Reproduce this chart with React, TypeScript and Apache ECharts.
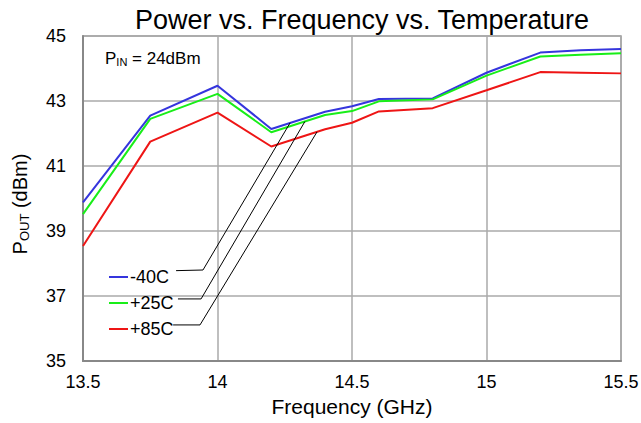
import React, { useEffect, useRef } from "react";
import * as echarts from "echarts";

const FONT = "'Liberation Sans', Arial, sans-serif";

const freqs = [13.5, 13.75, 14, 14.2, 14.4, 14.5, 14.6, 14.8, 15, 15.2, 15.35, 15.5];
const seriesNames = ["-40C", "+25C", "+85C"];
const pM40 = [39.88, 42.55, 43.47, 42.14, 42.67, 42.84, 43.06, 43.08, 43.87, 44.49, 44.56, 44.6];
const pP25 = [39.52, 42.45, 43.22, 42.04, 42.57, 42.69, 42.99, 43.05, 43.78, 44.37, 44.42, 44.47];
const pP85 = [38.54, 41.75, 42.64, 41.6, 42.13, 42.33, 42.68, 42.78, 43.33, 43.89, 43.87, 43.85];
const seriesColors = ["#3535dd", "#18ee18", "#ee1515"];

// leader-line annotations (data coordinates: frequency, dBm)
const leaderM40 = [[13.846, 37.78], [13.946, 37.8], [14.27, 42.33]];
const leaderP25 = [[13.853, 36.91], [13.939, 36.91], [14.325, 42.37]];
const leaderP85 = [[13.835, 36.11], [13.935, 36.11], [14.37, 42.05]];

const xTicks = { min: 13.5, max: 15.5, interval: 0.5 };
const yTicks = { min: 35, max: 45, interval: 2 };

export default function App() {
  const ref = useRef<HTMLDivElement>(null);
  useEffect(() => {
    if (!ref.current) return;
    const chart = echarts.init(ref.current, undefined, { renderer: "svg" });
    const values = [pM40, pP25, pP85];
    const leaders = [leaderM40, leaderP25, leaderP85];
    const dataSeries = values.map((vals, i) => ({
      name: seriesNames[i],
      type: "line",
      data: freqs.map((f, j) => [f, vals[j]]),
      showSymbol: false,
      symbol: "none",
      lineStyle: { color: seriesColors[i], width: 2 },
      itemStyle: { color: seriesColors[i] },
      z: 3,
    }));
    const leaderSeries = leaders.map((pts) => ({
      type: "line",
      data: pts,
      showSymbol: false,
      symbol: "none",
      silent: true,
      lineStyle: { color: "#000", width: 1 },
      z: 4,
    }));
    chart.setOption({
      animation: false,
      backgroundColor: "#fff",
      title: {
        text: "Power vs. Frequency vs. Temperature",
        left: 357,
        textAlign: "center",
        top: 1,
        textStyle: { fontFamily: FONT, fontSize: 27, fontWeight: "normal", color: "#000" },
      },
      grid: {
        left: 83,
        right: 20,
        top: 36,
        bottom: 62,
        show: true,
        borderColor: "#999",
        borderWidth: 1.5,
        backgroundColor: "transparent",
        containLabel: false,
        outerBoundsMode: "none",
      },
      legend: {
        orient: "vertical",
        left: 104,
        top: 263,
        icon: "rect",
        itemWidth: 19,
        itemHeight: 2,
        itemGap: 8,
        data: seriesNames,
        textStyle: { fontFamily: FONT, fontSize: 18, color: "#000", padding: [0, 0, 0, -3] },
      },
      graphic: [
        {
          type: "text",
          left: 105,
          top: 50,
          style: {
            text: "{a|P}{b|IN}{a| = 24dBm}",
            rich: {
              a: { fontFamily: FONT, fontSize: 17, fill: "#000" },
              b: { fontFamily: FONT, fontSize: 11, fill: "#000", verticalAlign: "bottom", padding: [7, 0, 0, 0] },
            },
          },
        },
        {
          type: "text",
          x: 20,
          y: 204,
          rotation: Math.PI / 2,
          style: {
            text: "{a|P}{b|OUT}{a| (dBm)}",
            align: "center",
            verticalAlign: "middle",
            rich: {
              a: { fontFamily: FONT, fontSize: 20, fill: "#000" },
              b: { fontFamily: FONT, fontSize: 13, fill: "#000", verticalAlign: "bottom", padding: [8, 0, 0, 0] },
            },
          },
        },
      ],
      xAxis: {
        type: "value",
        min: xTicks.min,
        max: xTicks.max,
        interval: xTicks.interval,
        name: "Frequency (GHz)",
        nameLocation: "middle",
        nameGap: 28,
        nameTextStyle: { fontFamily: FONT, fontSize: 21, color: "#000" },
        axisLine: { show: true, lineStyle: { color: "#888", width: 2 } },
        axisTick: { show: false },
        axisLabel: { fontFamily: FONT, fontSize: 18, color: "#000", margin: 12, formatter: (v: number) => String(v) },
        splitLine: { show: true, lineStyle: { color: "#aaa", width: 1.5 } },
      },
      yAxis: {
        type: "value",
        min: yTicks.min,
        max: yTicks.max,
        interval: yTicks.interval,
        axisLine: { show: true, lineStyle: { color: "#888", width: 2 } },
        axisTick: { show: false },
        axisLabel: { fontFamily: FONT, fontSize: 18, color: "#000", margin: 17 },
        splitLine: { show: true, lineStyle: { color: "#aaa", width: 1.5 } },
      },
      series: [...dataSeries, ...leaderSeries],
    });
    return () => chart.dispose();
  }, []);
  return (
    <div
      ref={ref}
      style={{ position: "fixed", left: 0, top: 0, width: 641, height: 423, background: "#fff" }}
    />
  );
}
